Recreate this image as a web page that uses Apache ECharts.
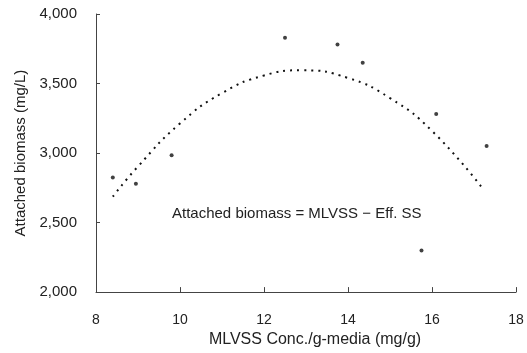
<!DOCTYPE html>
<html>
<head>
<meta charset="utf-8">
<script src="https://cdn.jsdelivr.net/npm/echarts@6/dist/echarts.min.js"></script>
<style>
  html, body { margin: 0; padding: 0; background: #fff; }
  #chart { width: 527px; height: 353px; }
</style>
</head>
<body>
<div id="chart"></div>
<script>
// measured points (MLVSS conc. vs attached biomass)
const mlvss = [8.4, 8.95, 9.8, 12.5, 13.75, 14.35, 15.75, 16.1, 17.3];
const biomass = [2825, 2780, 2985, 3830, 3780, 3650, 2300, 3280, 3050];

// dotted trend curve
const trendX = [8.4, 9, 10, 11, 12, 12.9, 14, 15, 16, 17.2];
const trendY = [2686, 2904, 3213, 3431, 3558, 3595, 3540, 3395, 3159, 2747];

const xTicks = [8, 10, 12, 14, 16, 18];
const yTicks = [2000, 2500, 3000, 3500, 4000];

const font = '"Liberation Sans", Arial, sans-serif';
const chart = echarts.init(document.getElementById('chart'));

chart.setOption({
  animation: false,
  grid: { left: 96, right: 11, top: 14, bottom: 59 },
  xAxis: {
    type: 'value',
    min: xTicks[0],
    max: xTicks[xTicks.length - 1],
    interval: 2,
    name: 'MLVSS Conc./g-media (mg/g)',
    nameLocation: 'middle',
    nameGap: 38,
    nameTextStyle: { fontFamily: font, fontSize: 16, color: '#222', padding: [0, 0, 0, 18] },
    axisLine: { show: true, lineStyle: { color: '#444', width: 1 } },
    axisTick: { show: true, inside: true, length: 5, lineStyle: { color: '#444' } },
    axisLabel: { fontFamily: font, fontSize: 14, color: '#222', margin: 21 },
    splitLine: { show: false }
  },
  yAxis: {
    type: 'value',
    min: yTicks[0],
    max: yTicks[yTicks.length - 1],
    interval: 500,
    name: 'Attached biomass (mg/L)',
    nameLocation: 'middle',
    nameGap: 67,
    nameTextStyle: { fontFamily: font, fontSize: 15, color: '#222' },
    axisLine: { show: true, lineStyle: { color: '#444', width: 1 } },
    axisTick: { show: true, inside: true, length: 4, lineStyle: { color: '#444' } },
    axisLabel: {
      fontFamily: font, fontSize: 15, color: '#222', margin: 19,
      formatter: v => v.toLocaleString('en-US')
    },
    splitLine: { show: false }
  },
  graphic: [{
    type: 'text',
    left: 172,
    top: 206,
    style: {
      text: 'Attached biomass = MLVSS − Eff. SS',
      font: '15px ' + font,
      fill: '#222'
    }
  }],
  series: [
    {
      type: 'line',
      data: trendX.map((x, i) => [x, trendY[i]]),
      smooth: true,
      showSymbol: false,
      lineStyle: { color: '#111', width: 2, type: [2, 5] },
      z: 1
    },
    {
      type: 'scatter',
      data: mlvss.map((x, i) => [x, biomass[i]]),
      symbolSize: 4,
      itemStyle: { color: '#111' },
      z: 2
    }
  ]
});
</script>
</body>
</html>
